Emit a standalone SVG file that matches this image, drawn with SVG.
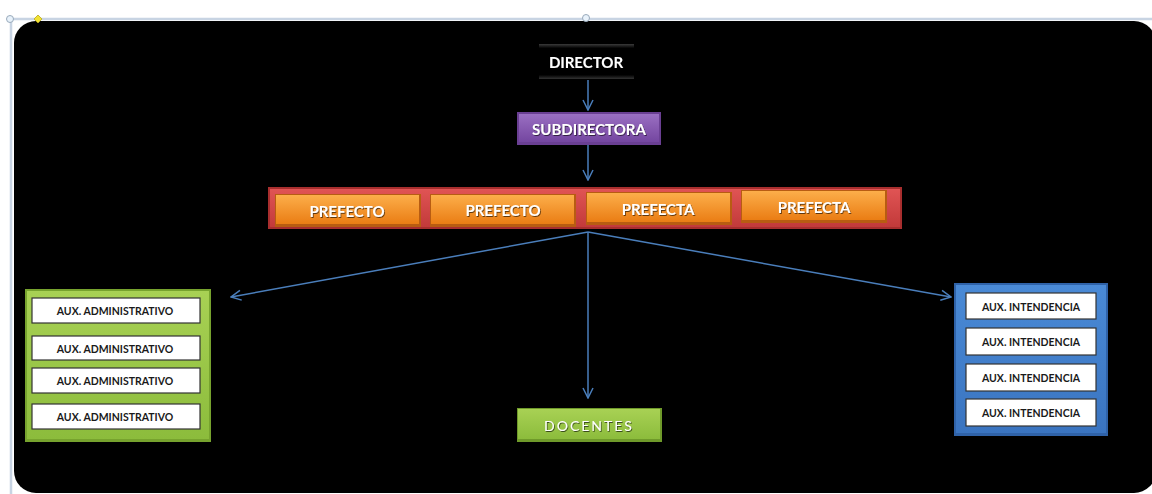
<svg xmlns="http://www.w3.org/2000/svg" width="1152" height="494" viewBox="0 0 1152 494">
<defs>
<linearGradient id="gPurple" x1="0" y1="0" x2="0" y2="1"><stop offset="0" stop-color="#9a6fc2"/><stop offset="1" stop-color="#7446a0"/></linearGradient>
<linearGradient id="gOrange" x1="0" y1="0" x2="0" y2="1"><stop offset="0" stop-color="#fcae4a"/><stop offset="1" stop-color="#ea7d14"/></linearGradient>
<linearGradient id="gRed" x1="0" y1="0" x2="0" y2="1"><stop offset="0" stop-color="#e05454"/><stop offset="1" stop-color="#c23a3a"/></linearGradient>
<linearGradient id="gGreen" x1="0" y1="0" x2="0" y2="1"><stop offset="0" stop-color="#a8d154"/><stop offset="1" stop-color="#8cbc3c"/></linearGradient>
<linearGradient id="gBlue" x1="0" y1="0" x2="0" y2="1"><stop offset="0" stop-color="#4a8ad6"/><stop offset="1" stop-color="#3a74c0"/></linearGradient>
<linearGradient id="gBlack" x1="0" y1="0" x2="0" y2="1"><stop offset="0" stop-color="#3a3a3a"/><stop offset="0.12" stop-color="#000"/><stop offset="0.88" stop-color="#000"/><stop offset="1" stop-color="#333"/></linearGradient>
<marker id="arr" viewBox="0 0 12 12" refX="11" refY="6" markerWidth="12" markerHeight="12" markerUnits="userSpaceOnUse" orient="auto">
<path d="M1,1 L11,6 L1,11" fill="none" stroke="#4a7ebb" stroke-width="1.5"/>
</marker>
<filter id="sh" x="-10%" y="-30%" width="120%" height="160%"><feDropShadow dx="0.8" dy="1" stdDeviation="0.6" flood-color="#000" flood-opacity="0.6"/></filter>
</defs>
<style>
.lbl{font-family:Lato,"Open Sans","Liberation Sans",sans-serif;font-weight:bold;fill:#fff;text-anchor:middle;dominant-baseline:central}
.sm{font-family:Lato,"Open Sans","Liberation Sans",sans-serif;font-weight:bold;fill:#1a1a1a;font-size:10.5px;text-anchor:middle;dominant-baseline:central}
.wb{fill:#fff;stroke:#333;stroke-width:1.2}
.conn{stroke:#4a7ebb;stroke-width:1.5;fill:none}
</style>
<rect x="0" y="0" width="1152" height="494" fill="#fff"/>
<line x1="10" y1="19" x2="1152" y2="19" stroke="#c8d4e3" stroke-width="2.5"/>
<line x1="11" y1="19" x2="11" y2="494" stroke="#c8d4e3" stroke-width="2.5"/>
<rect x="14" y="21" width="1142" height="472" rx="22" fill="#000"/>
<circle cx="10" cy="19" r="3.5" fill="#e8f2fb" stroke="#9ab" stroke-width="1"/>
<circle cx="586" cy="18" r="3.5" fill="#e8f2fb" stroke="#9ab" stroke-width="1"/>
<path d="M38,15 L42,19 L38,23 L34,19 Z" fill="#f2e233" stroke="#b9a820" stroke-width="0.8"/>

<g id="connectors">
<line class="conn" x1="588" y1="80" x2="588" y2="110" marker-end="url(#arr)"/>
<line class="conn" x1="588" y1="144" x2="588" y2="180" marker-end="url(#arr)"/>
<line class="conn" x1="588" y1="232" x2="231" y2="297" marker-end="url(#arr)"/>
<line class="conn" x1="588" y1="232" x2="951" y2="297" marker-end="url(#arr)"/>
<line class="conn" x1="588" y1="232" x2="588" y2="398" marker-end="url(#arr)"/>
</g>

<g id="director">
<rect x="539" y="44" width="95" height="35" fill="url(#gBlack)"/>
<text class="lbl" x="586" y="61.5" font-size="15" filter="url(#sh)">DIRECTOR</text>
</g>

<g id="subdirectora">
<rect x="517" y="112" width="144" height="33" fill="#6a3f93"/>
<rect x="519" y="114" width="140" height="28" fill="url(#gPurple)"/>
<text class="lbl" x="589" y="129" font-size="15" filter="url(#sh)">SUBDIRECTORA</text>
</g>

<g id="prefectos">
<rect x="268" y="187" width="634" height="42" fill="#a82e2e"/>
<rect x="270" y="189" width="630" height="38" fill="url(#gRed)"/>
<g id="prefecto1">
<rect x="275" y="194" width="146" height="33" fill="#b85c12"/>
<rect x="276" y="195" width="143" height="29" fill="url(#gOrange)"/>
<text class="lbl" x="347" y="210.5" font-size="15" filter="url(#sh)">PREFECTO</text>
</g>
<g id="prefecto2">
<rect x="430" y="194" width="146" height="33" fill="#b85c12"/>
<rect x="431" y="195" width="143" height="29" fill="url(#gOrange)"/>
<text class="lbl" x="503" y="210" font-size="15" filter="url(#sh)">PREFECTO</text>
</g>
<g id="prefecta1">
<rect x="586" y="192" width="146" height="33" fill="#b85c12"/>
<rect x="587" y="193" width="143" height="29" fill="url(#gOrange)"/>
<text class="lbl" x="658" y="208.5" font-size="15" filter="url(#sh)">PREFECTA</text>
</g>
<g id="prefecta2">
<rect x="741" y="190" width="146" height="33" fill="#b85c12"/>
<rect x="742" y="191" width="143" height="29" fill="url(#gOrange)"/>
<text class="lbl" x="814" y="207" font-size="15" filter="url(#sh)">PREFECTA</text>
</g>
</g>

<g id="aux-administrativo">
<rect x="25" y="289" width="186" height="153" fill="#77a32e"/>
<rect x="27" y="291" width="182" height="148" fill="url(#gGreen)"/>
<rect class="wb" x="32" y="298" width="168" height="25"/>
<text class="sm" x="115" y="311">AUX. ADMINISTRATIVO</text>
<rect class="wb" x="32" y="336" width="168" height="24"/>
<text class="sm" x="115" y="348.5">AUX. ADMINISTRATIVO</text>
<rect class="wb" x="32" y="368" width="168" height="25"/>
<text class="sm" x="115" y="381">AUX. ADMINISTRATIVO</text>
<rect class="wb" x="32" y="404" width="168" height="25"/>
<text class="sm" x="115" y="417">AUX. ADMINISTRATIVO</text>
</g>

<g id="aux-intendencia">
<rect x="954" y="283" width="154" height="153" fill="#2f62a8"/>
<rect x="956" y="285" width="150" height="148" fill="url(#gBlue)"/>
<rect class="wb" x="966" y="293" width="130" height="26"/>
<text class="sm" x="1031" y="306.5">AUX. INTENDENCIA</text>
<rect class="wb" x="966" y="328" width="130" height="27"/>
<text class="sm" x="1031" y="342">AUX. INTENDENCIA</text>
<rect class="wb" x="966" y="364" width="130" height="27"/>
<text class="sm" x="1031" y="378">AUX. INTENDENCIA</text>
<rect class="wb" x="966" y="399" width="130" height="27"/>
<text class="sm" x="1031" y="412.5">AUX. INTENDENCIA</text>
</g>

<g id="docentes">
<rect x="517" y="408" width="145" height="34" fill="#6f9a2a"/>
<rect x="518" y="409" width="142" height="30" fill="url(#gGreen)"/>
<text class="lbl" x="589" y="425" font-size="14" letter-spacing="2" fill="#eee" filter="url(#sh)" style="font-weight:normal">DOCENTES</text>
</g>
</svg>
